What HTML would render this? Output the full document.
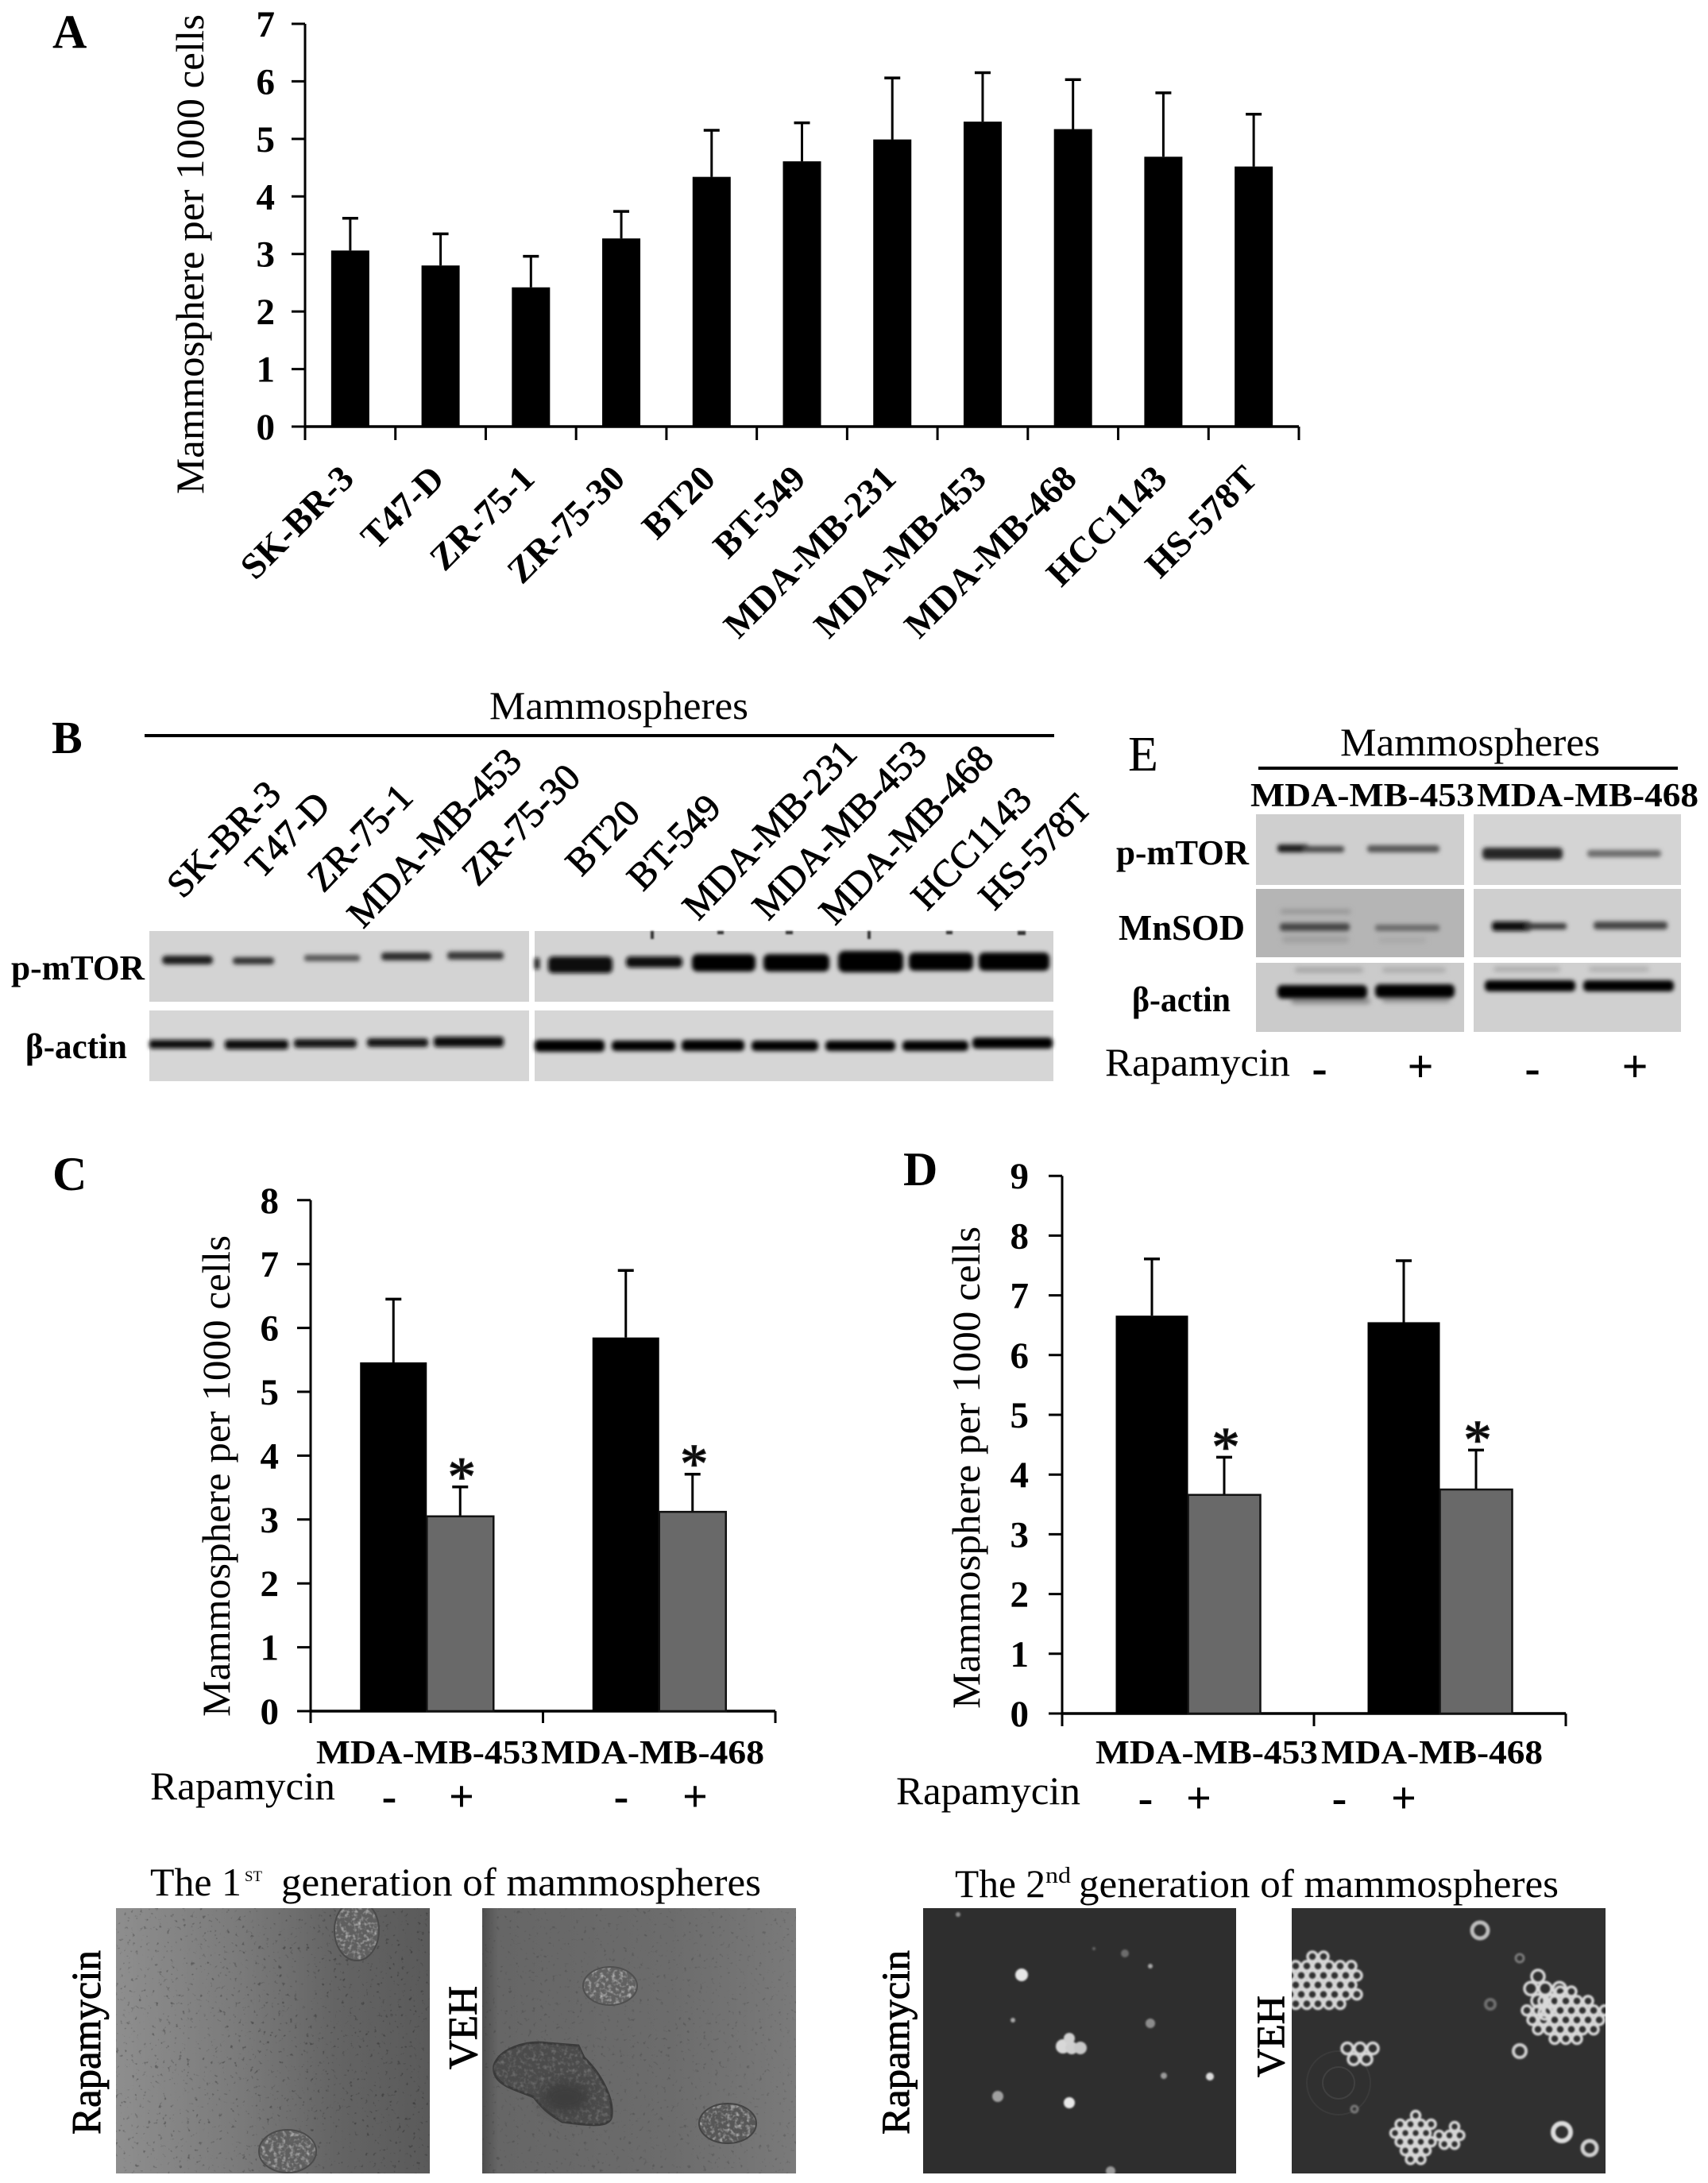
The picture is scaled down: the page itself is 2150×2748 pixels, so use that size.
<!DOCTYPE html>
<html lang="en">
<head>
<meta charset="utf-8">
<title>Mammosphere formation figure</title>
<style>
html,body{margin:0;padding:0;background:#fff}
svg{display:block}
text{font-family:"Liberation Serif",serif;fill:#000}
.b{font-weight:bold}
.semi{stroke:#000;stroke-width:.9px}
</style>
</head>
<body>
<svg id="fig" xmlns="http://www.w3.org/2000/svg" width="2150" height="2748" viewBox="0 0 2150 2748">
<defs>
<filter id="blur3" x="-30%" y="-150%" width="160%" height="400%"><feGaussianBlur stdDeviation="3.2"/></filter>
<filter id="blur2" x="-30%" y="-150%" width="160%" height="400%"><feGaussianBlur stdDeviation="2.6"/></filter>
<filter id="blur1" x="-30%" y="-30%" width="160%" height="160%"><feGaussianBlur stdDeviation="1.1"/></filter>
<filter id="blur8" x="-30%" y="-30%" width="160%" height="160%"><feGaussianBlur stdDeviation="7"/></filter>
<filter id="noise" x="0" y="0" width="100%" height="100%">
<feTurbulence type="fractalNoise" baseFrequency="0.2" numOctaves="2" seed="7"/>
<feColorMatrix type="matrix" values="0 0 0 0 0  0 0 0 0 0  0 0 0 0 0  6 0 0 0 -3.9"/>
</filter>
<filter id="grain" x="0" y="0" width="100%" height="100%">
<feTurbulence type="fractalNoise" baseFrequency="0.2" numOctaves="2" seed="3" result="t"/>
<feColorMatrix in="t" type="matrix" values="0 0 0 0 .9  0 0 0 0 .9  0 0 0 0 .9  2.6 0 0 0 -1.2" result="c"/>
<feComposite in="c" in2="SourceAlpha" operator="in"/>
</filter>
<linearGradient id="micro1" x1="0" x2="1" y1="0" y2="0"><stop offset="0" stop-color="#8e8e8e"/><stop offset=".4" stop-color="#7a7a7a"/><stop offset=".7" stop-color="#646464"/><stop offset="1" stop-color="#5a5a5a"/></linearGradient>
<linearGradient id="micro2" x1="0" x2="1" y1="0" y2="0"><stop offset="0" stop-color="#4e4e4e"/><stop offset=".05" stop-color="#666"/><stop offset=".6" stop-color="#6c6c6c"/><stop offset="1" stop-color="#7a7a7a"/></linearGradient>
<clipPath id="clipM1"><rect x="146" y="2402" width="395" height="334"/></clipPath>
<clipPath id="clipM2"><rect x="607" y="2402" width="395" height="334"/></clipPath>
<clipPath id="clipM3"><rect x="1162" y="2402" width="394" height="334"/></clipPath>
<clipPath id="clipM4"><rect x="1626" y="2402" width="395" height="334"/></clipPath>
</defs>

<rect width="2150" height="2748" fill="#fff"/>

<!-- Panel letters -->
<text class="b" x="66" y="60" font-size="60">A</text>
<text class="b" x="65" y="948" font-size="58">B</text>
<text class="b" x="66" y="1498" font-size="60">C</text>
<text class="b" x="1137" y="1492" font-size="60">D</text>
<text x="1420" y="970" font-size="62">E</text>

<g id="chartA"></g>
<g id="chartC"></g>
<g id="chartD"></g>

<text transform="translate(256,622) rotate(-90)" font-size="50" textLength="604" lengthAdjust="spacingAndGlyphs">Mammosphere per 1000 cells</text>
<text transform="translate(289,2161) rotate(-90)" font-size="50" textLength="606" lengthAdjust="spacingAndGlyphs">Mammosphere per 1000 cells</text>
<text transform="translate(1233,2151) rotate(-90)" font-size="50" textLength="607" lengthAdjust="spacingAndGlyphs">Mammosphere per 1000 cells</text>

<!-- Panel C labels -->
<g>
<text class="b" x="398" y="2220" font-size="42" textLength="280" lengthAdjust="spacingAndGlyphs">MDA-MB-453</text>
<text class="b" x="681" y="2220" font-size="42" textLength="281" lengthAdjust="spacingAndGlyphs">MDA-MB-468</text>
<text x="189" y="2265" font-size="50" textLength="233" lengthAdjust="spacingAndGlyphs">Rapamycin</text>
<text class="b" x="490" y="2280" font-size="56" text-anchor="middle">-</text>
<text class="b" x="581" y="2280" font-size="56" text-anchor="middle">+</text>
<text class="b" x="782" y="2280" font-size="56" text-anchor="middle">-</text>
<text class="b" x="875" y="2280" font-size="56" text-anchor="middle">+</text>
</g>

<!-- Panel D labels -->
<g>
<text class="b" x="1379" y="2220" font-size="42" textLength="280" lengthAdjust="spacingAndGlyphs">MDA-MB-453</text>
<text class="b" x="1663" y="2220" font-size="42" textLength="279" lengthAdjust="spacingAndGlyphs">MDA-MB-468</text>
<text x="1128" y="2271" font-size="50" textLength="232" lengthAdjust="spacingAndGlyphs">Rapamycin</text>
<text class="b" x="1442" y="2282" font-size="56" text-anchor="middle">-</text>
<text class="b" x="1509" y="2282" font-size="56" text-anchor="middle">+</text>
<text class="b" x="1686" y="2282" font-size="56" text-anchor="middle">-</text>
<text class="b" x="1767" y="2282" font-size="56" text-anchor="middle">+</text>
</g>

<!-- Panel B -->
<g>
<text x="616" y="905" font-size="50" textLength="326" lengthAdjust="spacingAndGlyphs">Mammospheres</text>
<line x1="182" y1="926" x2="1327" y2="926" stroke="#000" stroke-width="4"/>
<g font-size="48" text-anchor="end" class="semi">
<text transform="translate(356,1002) rotate(-46)">SK-BR-3</text>
<text transform="translate(418,1016) rotate(-46)">T47-D</text>
<text transform="translate(522,1006) rotate(-46)">ZR-75-1</text>
<text transform="translate(659,961) rotate(-46)">MDA-MB-453</text>
<text transform="translate(733,981) rotate(-46)">ZR-75-30</text>
<text transform="translate(808,1026) rotate(-46)">BT20</text>
<text transform="translate(910,1019) rotate(-46)">BT-549</text>
<text transform="translate(1081,951) rotate(-46)">MDA-MB-231</text>
<text transform="translate(1169,951) rotate(-46)">MDA-MB-453</text>
<text transform="translate(1253,957) rotate(-46)">MDA-MB-468</text>
<text transform="translate(1301,1009) rotate(-46)">HCC1143</text>
<text transform="translate(1376,1019) rotate(-46)">HS-578T</text>
</g>
<text class="b" x="14" y="1233" font-size="44" textLength="168" lengthAdjust="spacingAndGlyphs">p-mTOR</text>
<text class="b" x="32" y="1332" font-size="44" textLength="128" lengthAdjust="spacingAndGlyphs">β-actin</text>

<g>
<rect x="188" y="1172" width="478" height="89" fill="#d3d3d3"/>
<rect x="673" y="1172" width="653" height="89" fill="#d3d3d3"/>
<g filter="url(#blur2)">
<rect x="204" y="1203" width="64" height="11" rx="5" fill="#1c1c1c"/>
<rect x="293" y="1205" width="52" height="9" rx="4" fill="#333"/>
<rect x="383" y="1202" width="70" height="8" rx="3" fill="#555"/>
<rect x="480" y="1199" width="63" height="10" rx="4" fill="#2a2a2a"/>
<rect x="563" y="1198" width="71" height="10" rx="4" fill="#383838"/>
<rect x="673" y="1206" width="6" height="14" fill="#111"/>
<rect x="690" y="1204" width="81" height="21" rx="6" fill="#0a0a0a"/>
<rect x="788" y="1204" width="71" height="14" rx="5" fill="#111"/>
<rect x="871" y="1201" width="80" height="22" rx="7" fill="#050505"/>
<rect x="961" y="1201" width="83" height="22" rx="7" fill="#050505"/>
<rect x="1055" y="1197" width="82" height="27" rx="8" fill="#000"/>
<rect x="1144" y="1199" width="81" height="23" rx="7" fill="#000"/>
<rect x="1232" y="1199" width="89" height="23" rx="7" fill="#000"/>
</g>
<g filter="url(#blur1)">
<rect x="819" y="1172" width="4" height="10" fill="#333"/>
<rect x="903" y="1172" width="8" height="4" fill="#333"/>
<rect x="989" y="1172" width="9" height="4" fill="#333"/>
<rect x="1092" y="1172" width="4" height="10" fill="#333"/>
<rect x="1191" y="1172" width="8" height="4" fill="#333"/>
<rect x="1281" y="1172" width="10" height="5" fill="#333"/>
</g>
</g>
<g>
<rect x="188" y="1272" width="478" height="89" fill="#d6d6d6"/>
<rect x="673" y="1272" width="653" height="89" fill="#d6d6d6"/>
<g filter="url(#blur2)">
<rect x="188" y="1309" width="80" height="11" rx="3" fill="#111"/>
<rect x="283" y="1309" width="80" height="12" rx="4" fill="#111"/>
<rect x="370" y="1308" width="79" height="11" rx="4" fill="#151515"/>
<rect x="462" y="1307" width="77" height="11" rx="4" fill="#151515"/>
<rect x="546" y="1305" width="88" height="13" rx="4" fill="#0c0c0c"/>
<rect x="673" y="1309" width="88" height="15" rx="5" fill="#000"/>
<rect x="770" y="1310" width="80" height="13" rx="5" fill="#050505"/>
<rect x="858" y="1309" width="79" height="14" rx="5" fill="#050505"/>
<rect x="946" y="1310" width="84" height="13" rx="5" fill="#050505"/>
<rect x="1039" y="1310" width="88" height="13" rx="5" fill="#050505"/>
<rect x="1136" y="1310" width="83" height="13" rx="5" fill="#050505"/>
<rect x="1224" y="1306" width="101" height="14" rx="5" fill="#050505"/>
</g>
</g>
</g>

<!-- Panel E -->
<g>
<text x="1687" y="951" font-size="50" textLength="327" lengthAdjust="spacingAndGlyphs">Mammospheres</text>
<line x1="1584" y1="967" x2="2112" y2="967" stroke="#000" stroke-width="4"/>
<text class="b" x="1574" y="1015" font-size="42" textLength="282" lengthAdjust="spacingAndGlyphs">MDA-MB-453</text>
<text class="b" x="1859" y="1015" font-size="42" textLength="279" lengthAdjust="spacingAndGlyphs">MDA-MB-468</text>
<text class="b" x="1405" y="1088" font-size="44" textLength="167" lengthAdjust="spacingAndGlyphs">p-mTOR</text>
<text class="b" x="1408" y="1183" font-size="46" textLength="159" lengthAdjust="spacingAndGlyphs">MnSOD</text>
<text class="b" x="1425" y="1273" font-size="44" textLength="124" lengthAdjust="spacingAndGlyphs">β-actin</text>
<text x="1391" y="1354" font-size="50" textLength="233" lengthAdjust="spacingAndGlyphs">Rapamycin</text>
<text class="b" x="1661" y="1364" font-size="58" text-anchor="middle">-</text>
<text class="b" x="1788" y="1362" font-size="58" text-anchor="middle">+</text>
<text class="b" x="1929" y="1364" font-size="58" text-anchor="middle">-</text>
<text class="b" x="2058" y="1362" font-size="58" text-anchor="middle">+</text>

<g>
<rect x="1581" y="1025" width="262" height="89" fill="#cfcfcf"/>
<rect x="1855" y="1025" width="261" height="89" fill="#d4d4d4"/>
<rect x="1581" y="1119" width="262" height="86" fill="#b5b5b5"/>
<rect x="1855" y="1119" width="261" height="86" fill="#cfcfcf"/>
<rect x="1581" y="1212" width="262" height="87" fill="#cbcbcb"/>
<rect x="1855" y="1212" width="261" height="87" fill="#d0d0d0"/>
</g>
<g filter="url(#blur3)">
<rect x="1612" y="1145" width="88" height="5" rx="2" fill="#909090"/>
<rect x="1614" y="1178" width="84" height="9" rx="4" fill="#a0a0a0"/>
<rect x="1735" y="1180" width="60" height="7" rx="3" fill="#a8a8a8"/>
<rect x="1630" y="1218" width="86" height="6" rx="3" fill="#a0a0a0"/>
<rect x="1740" y="1218" width="80" height="6" rx="3" fill="#a8a8a8"/>
<rect x="1880" y="1217" width="84" height="6" rx="3" fill="#a8a8a8"/>
<rect x="2000" y="1217" width="76" height="6" rx="3" fill="#acacac"/>
<rect x="1625" y="1256" width="100" height="8" rx="4" fill="#8a8a8a"/>
<rect x="1740" y="1255" width="85" height="7" rx="3" fill="#8f8f8f"/>
</g>
<g filter="url(#blur2)">
<rect x="1608" y="1063" width="40" height="10" rx="4" fill="#1a1a1a"/>
<rect x="1640" y="1065" width="52" height="8" rx="3" fill="#4a4a4a"/>
<rect x="1721" y="1064" width="91" height="9" rx="4" fill="#555"/>
<rect x="1866" y="1067" width="101" height="15" rx="5" fill="#262626"/>
<rect x="1998" y="1070" width="93" height="9" rx="4" fill="#6c6c6c"/>
<rect x="1611" y="1162" width="88" height="10" rx="4" fill="#474747"/>
<rect x="1731" y="1164" width="81" height="8" rx="3" fill="#6a6a6a"/>
<rect x="1878" y="1160" width="50" height="12" rx="4" fill="#111"/>
<rect x="1920" y="1162" width="52" height="8" rx="3" fill="#3a3a3a"/>
<rect x="2006" y="1160" width="93" height="10" rx="4" fill="#444"/>
<rect x="1608" y="1240" width="113" height="17" rx="6" fill="#000"/>
<rect x="1731" y="1239" width="100" height="17" rx="6" fill="#000"/>
<rect x="1869" y="1234" width="114" height="14" rx="5" fill="#000"/>
<rect x="1993" y="1234" width="114" height="14" rx="5" fill="#000"/>
</g>
</g>

<!-- Micrographs, first generation -->
<g>
<text x="189" y="2386" font-size="50" textLength="115" lengthAdjust="spacingAndGlyphs">The 1</text>
<text x="308" y="2368" font-size="19" textLength="22" lengthAdjust="spacingAndGlyphs">ST</text>
<text x="354" y="2386" font-size="50" textLength="604" lengthAdjust="spacingAndGlyphs">generation of mammospheres</text>
<text transform="translate(126,2687) rotate(-90)" font-size="52" class="semi" textLength="232" lengthAdjust="spacingAndGlyphs">Rapamycin</text>
<text transform="translate(600,2605) rotate(-90)" font-size="52" class="semi" textLength="105" lengthAdjust="spacingAndGlyphs">VEH</text>
<g clip-path="url(#clipM1)">
<rect x="146" y="2402" width="395" height="334" fill="url(#micro1)"/>
<rect x="146" y="2402" width="395" height="334" filter="url(#noise)" opacity=".28"/>
<g>
<ellipse cx="449" cy="2430" rx="28" ry="38" fill="#5f5f5f" stroke="#4a4a4a" stroke-width="2"/>
<ellipse cx="449" cy="2430" rx="27" ry="37" fill="#000" filter="url(#grain)" opacity=".55"/>
</g>
<g>
<ellipse cx="362" cy="2708" rx="36" ry="27" fill="#5f5f5f" stroke="#4c4c4c" stroke-width="2"/>
<ellipse cx="362" cy="2708" rx="35" ry="26" fill="#000" filter="url(#grain)" opacity=".55"/>
</g>
</g>
<g clip-path="url(#clipM2)">
<rect x="607" y="2402" width="395" height="334" fill="url(#micro2)"/>
<rect x="607" y="2402" width="395" height="334" filter="url(#noise)" opacity=".15"/>
<ellipse cx="768" cy="2500" rx="34" ry="24" fill="#616161" stroke="#505050" stroke-width="2"/>
<ellipse cx="768" cy="2500" rx="33" ry="23" fill="#000" filter="url(#grain)" opacity=".55"/>
<path d="M622 2600 C628 2580 660 2568 690 2572 L728 2575 L735 2590 C756 2610 772 2640 770 2662 C770 2680 740 2675 708 2671 C688 2660 680 2650 672 2640 C650 2630 618 2625 622 2600 Z" fill="#4b4b4b" stroke="#3a3a3a" stroke-width="3"/>
<path d="M622 2600 C628 2580 660 2568 690 2572 L728 2575 L735 2590 C756 2610 772 2640 770 2662 C770 2680 740 2675 708 2671 C688 2660 680 2650 672 2640 C650 2630 618 2625 622 2600 Z" fill="#000" filter="url(#grain)" opacity=".2"/>
<ellipse cx="712" cy="2640" rx="30" ry="20" fill="#3d3d3d" filter="url(#blur8)"/>
<ellipse cx="916" cy="2673" rx="36" ry="25" fill="#575757" stroke="#444" stroke-width="2"/>
<ellipse cx="916" cy="2673" rx="35" ry="24" fill="#000" filter="url(#grain)" opacity=".55"/>
</g>
</g>

<!-- Micrographs, second generation -->
<g>
<text x="1202" y="2388" font-size="50" textLength="114" lengthAdjust="spacingAndGlyphs">The 2</text>
<text x="1316" y="2370" font-size="28" textLength="32" lengthAdjust="spacingAndGlyphs">nd</text>
<text x="1358" y="2388" font-size="50" textLength="604" lengthAdjust="spacingAndGlyphs">generation of mammospheres</text>
<text transform="translate(1144,2687) rotate(-90)" font-size="50" class="semi" textLength="232" lengthAdjust="spacingAndGlyphs">Rapamycin</text>
<text transform="translate(1616,2615) rotate(-90)" font-size="50" class="semi" textLength="103" lengthAdjust="spacingAndGlyphs">VEH</text>
<g clip-path="url(#clipM3)">
<rect x="1162" y="2402" width="394" height="334" fill="#2e2e2e"/>
<g id="spots3" filter="url(#blur1)"></g>
</g>
<g clip-path="url(#clipM4)">
<rect x="1626" y="2402" width="395" height="334" fill="#303030"/>
<circle cx="1685" cy="2622" r="40" fill="none" stroke="#3a3a3a" stroke-width="2"/>
<circle cx="1685" cy="2622" r="20" fill="none" stroke="#404040" stroke-width="2"/>
<g id="spots4" filter="url(#blur1)"></g>
</g>
</g>
</svg>

<script>
// Panel A data
const categoriesA = ["SK-BR-3","T47-D","ZR-75-1","ZR-75-30","BT20","BT-549","MDA-MB-231","MDA-MB-453","MDA-MB-468","HCC1143","HS-578T"];
const valuesA = [3.06,2.80,2.42,3.27,4.34,4.61,4.99,5.30,5.17,4.69,4.52];
const errorsA = [0.56,0.55,0.54,0.47,0.81,0.67,1.07,0.85,0.86,1.11,0.91];
const ticksA = [0,1,2,3,4,5,6,7];

// Panel C data
const groupsC = ["MDA-MB-453","MDA-MB-468"];
const vehicleC = [5.46,5.85];
const rapamycinC = [3.05,3.12];
const vehicleErrC = [0.99,1.05];
const rapamycinErrC = [0.46,0.59];
const ticksC = [0,1,2,3,4,5,6,7,8];

// Panel D data
const groupsD = ["MDA-MB-453","MDA-MB-468"];
const vehicleD = [6.66,6.55];
const rapamycinD = [3.66,3.75];
const vehicleErrD = [0.95,1.03];
const rapamycinErrD = [0.63,0.66];
const ticksD = [0,1,2,3,4,5,6,7,8,9];

const SVGNS = "http://www.w3.org/2000/svg";
function mk(parent, tag, attrs, txt){
  const el = document.createElementNS(SVGNS, tag);
  for (const k in attrs) el.setAttribute(k, attrs[k]);
  if (txt !== undefined) el.textContent = txt;
  parent.appendChild(el);
  return el;
}
function drawYAxis(g, cfg, ticks, maxV){
  const axis = mk(g, "line", {x1:cfg.x0,y1:cfg.y(0),x2:cfg.x0,y2:cfg.y(maxV),stroke:"#000","stroke-width":3});
  
  
  const base = mk(g, "line", {x1:cfg.x0,y1:cfg.y(0),x2:cfg.x1,y2:cfg.y(0),stroke:"#000","stroke-width":3.5});
  
  
  ticks.forEach(function(t){
    const tk = mk(g, "line", {x1:cfg.x0-17,y1:cfg.y(t),x2:cfg.x0,y2:cfg.y(t),stroke:"#000","stroke-width":3});
    
    
    const lb = mk(g, "text", {x:cfg.labelX,y:cfg.y(t)+16,"text-anchor":"end","font-size":47,"font-weight":"bold"}, String(t));
    
    
  });
}
function drawXTicks(g, cfg, n){
  const band = (cfg.x1-cfg.x0)/n;
  for (let i=0;i<=n;i++){
    const px = cfg.x0+band*i;
    const tk = mk(g, "line", {x1:px,y1:cfg.y(0),x2:px,y2:cfg.y(0)+cfg.tickLen,stroke:"#000","stroke-width":3});
    
    
  }
}
function drawBar(g, cfg, cx, left, width, v, err, fill, outline){
  const top = cfg.y(v), errTop = cfg.y(v+err);
  const eb = mk(g, "line", {x1:cx,y1:top,x2:cx,y2:errTop,stroke:"#000","stroke-width":3});
  
  
  const cap = mk(g, "line", {x1:cx-10,y1:errTop,x2:cx+10,y2:errTop,stroke:"#000","stroke-width":3.5});
  
  
  const bar = mk(g, "rect", {x:left,y:top,width:width,height:cfg.y(0)-top,fill:fill});
  if (outline) { bar.setAttribute('stroke', outline); bar.setAttribute('stroke-width', 2.5); }
  
  
}

// Panel A
(function(){
  const g = document.getElementById("chartA");
  const cfg = {x0:384,x1:1635,labelX:346,tickLen:17,y:function(v){return 537-v*72.43;}};
  const band = (cfg.x1-cfg.x0)/categoriesA.length;
  drawYAxis(g,cfg,ticksA,7);
  drawXTicks(g,cfg,categoriesA.length);
  categoriesA.forEach(function(name,i){
    const cx = cfg.x0+band*(i+0.5);
    drawBar(g,cfg,cx,cx-24,48,valuesA[i],errorsA[i],"#000",null);
    const lb = mk(g,"text",{transform:"translate("+(cx+7)+",605) rotate(-45)","text-anchor":"end","font-size":46,"font-weight":"bold"},name);
    
    
  });
})();

function drawGrouped(id,x0,x1,labelX,tickLen,y,maxV,ticks,groups,veh,rap,vehE,rapE,bw){
  const g = document.getElementById(id);
  const cfg = {x0:x0,x1:x1,labelX:labelX,tickLen:tickLen,y:y};
  const band = (x1-x0)/groups.length;
  drawYAxis(g,cfg,ticks,maxV);
  drawXTicks(g,cfg,groups.length);
  groups.forEach(function(name,i){
    const c = x0+band*(i+0.5);
    drawBar(g,cfg,c-bw/2,c-bw,bw,veh[i],vehE[i],"#000",null);
    drawBar(g,cfg,c+bw/2,c,bw,rap[i],rapE[i],"#696969","#111");
    const star = mk(g,"text",{x:c+bw/2+2,y:y(rap[i]+rapE[i])+10,"text-anchor":"middle","font-size":70,fill:"#222",stroke:"#222","stroke-width":1.5},"*");
    
    
  });
}
drawGrouped("chartC",391,976,351,15,function(v){return 2154-v*80.4;},8,ticksC,groupsC,vehicleC,rapamycinC,vehicleErrC,rapamycinErrC,84);
drawGrouped("chartD",1337,1971,1295,16,function(v){return 2157-v*75.2;},9,ticksD,groupsD,vehicleD,rapamycinD,vehicleErrD,rapamycinErrD,91);

// Micrograph cells (image decoration, not chart data)
function spot(group,cx,cy,r,col){
  const c = mk(group,"circle",{cx:cx,cy:cy,r:r,fill:col});
  
  
}
function ring(group,cx,cy,r,col,w){
  const c = mk(group,"circle",{cx:cx,cy:cy,r:r,fill:"none",stroke:col,"stroke-width":w});
  
  
}
const s3 = document.getElementById("spots3");
spot(s3,1286,2486,8,"#e6e6e6");
spot(s3,1338,2576,9,"#d8d8d8");spot(s3,1349,2578,8,"#cfcfcf");spot(s3,1360,2578,8,"#c8c8c8");spot(s3,1346,2566,7,"#d0d0d0");
spot(s3,1346,2647,7,"#e8e8e8");spot(s3,1523,2614,5,"#dcdcdc");spot(s3,1465,2613,4,"#9a9a9a");
spot(s3,1448,2547,6,"#8c8c8c");spot(s3,1256,2639,7,"#a0a0a0");spot(s3,1275,2543,3,"#a8a8a8");
spot(s3,1448,2475,3,"#a8a8a8");spot(s3,1416,2459,5,"#6c6c6c");spot(s3,1206,2410,3,"#8c8c8c");spot(s3,1398,2733,6,"#9a9a9a");spot(s3,1377,2453,2,"#666");

const s4 = document.getElementById("spots4");
function cluster(x0,y0,x1,y1,r){
  const cx=(x0+x1)/2, cy=(y0+y1)/2, rx=(x1-x0)/2, ry=(y1-y0)/2;
  let row=0;
  for (let py=y0; py<=y1; py+=r*1.7){
    for (let px=x0+(row%2)*r; px<=x1; px+=r*2){
      const d=((px-cx)*(px-cx))/(rx*rx)+((py-cy)*(py-cy))/(ry*ry);
      if (d<=1.08) ring(s4,px,py,r-1,"#d8d8d8",3.5);
    }
    row++;
  }
}
cluster(1610,2463,1712,2530,7);
cluster(1918,2488,1965,2535,9);
cluster(1922,2507,2020,2568,7);
cluster(1688,2565,1736,2603,8);
cluster(1756,2663,1807,2720,6.5);
cluster(1805,2677,1847,2703,6.5);
ring(s4,1863,2430,10,"#bdbdbd",5);
ring(s4,1913,2582,8,"#cfcfcf",4);
ring(s4,1966,2684,11,"#dcdcdc",6);
ring(s4,2001,2704,9,"#cfcfcf",5);
ring(s4,1913,2465,5,"#7a7a7a",3);
ring(s4,1876,2523,6,"#6e6e6e",4);
ring(s4,1705,2655,4,"#7a7a7a",3);
</script>
</body>
</html>
